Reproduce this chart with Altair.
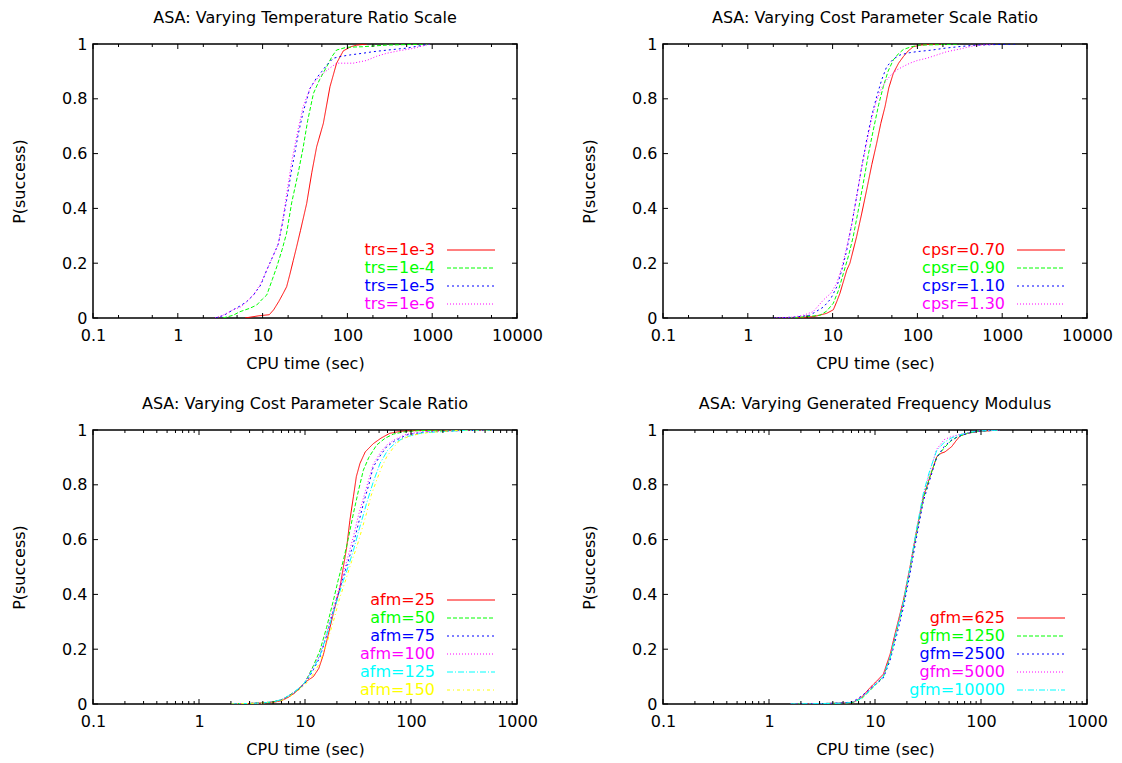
import altair as alt
import pandas as pd

# ------------------------------------------------------------------ data
COLORS = ["#ff0000", "#00ff00", "#0000ff", "#ff00ff", "#00ffff", "#ffff00"]
DASHES = [[1, 0], [4, 2], [2, 3], [1, 2], [6, 2, 1, 2], [3, 3, 1, 3]]

Y_TICKS = [0, 0.2, 0.4, 0.6, 0.8, 1]
X_MAJOR_5 = [0.1, 1, 10, 100, 1000, 10000]
X_MINOR_5 = [0.2, 0.5, 2, 5, 20, 50, 200, 500, 2000, 5000]
X_MAJOR_4 = [0.1, 1, 10, 100, 1000]
X_MINOR_4 = [m * d for d in (0.1, 1, 10, 100) for m in range(2, 10)]

# Panel 1 : temperature ratio scale
trs_labels = ["trs=1e-3", "trs=1e-4", "trs=1e-5", "trs=1e-6"]
trs3_t = [6.2, 9, 12, 13.5, 15.5, 17.5, 19.2, 21, 23, 25.2, 28, 33.1, 38, 43.4, 52, 62.3, 74.6, 89.5, 110, 129, 170]
trs3_p = [0.0, 0.008, 0.012, 0.03, 0.06, 0.09, 0.114, 0.16, 0.21, 0.26, 0.32, 0.418, 0.53, 0.625, 0.71, 0.844, 0.93, 0.975, 0.99, 0.996, 1.0]
trs4_t = [3.4, 4.5, 5.4, 7, 8.5, 10, 11.2, 13, 14.7, 17, 19.2, 22, 26.3, 30, 34, 39.8, 47, 57, 66, 74.6, 97.6, 150, 290, 500, 942]
trs4_p = [0.0, 0.01, 0.023, 0.035, 0.047, 0.07, 0.084, 0.14, 0.187, 0.25, 0.31, 0.42, 0.53, 0.62, 0.72, 0.82, 0.87, 0.917, 0.955, 0.978, 0.988, 0.99, 0.996, 0.998, 1.0]
trs5_t = [2.8, 3.5, 4.5, 5.5, 6.5, 7.8, 9.5, 11.2, 13, 15.3, 17, 19.2, 22, 26.3, 30, 36.2, 43, 50, 57, 68, 85, 107, 150, 202, 300, 500, 942]
trs5_p = [0.0, 0.01, 0.03, 0.045, 0.06, 0.084, 0.12, 0.175, 0.22, 0.27, 0.34, 0.43, 0.54, 0.67, 0.75, 0.838, 0.875, 0.9, 0.923, 0.948, 0.955, 0.96, 0.966, 0.972, 0.978, 0.985, 1.0]
trs6_t = [2.75, 3.5, 4.5, 5.5, 6.5, 7.8, 9.5, 11.2, 13, 15.3, 17, 19.2, 22, 26.3, 30, 36.2, 43, 52, 62, 74.6, 90, 117, 169, 220, 290, 400, 598, 942]
trs6_p = [0.0, 0.012, 0.03, 0.04, 0.06, 0.084, 0.125, 0.175, 0.22, 0.27, 0.345, 0.45, 0.57, 0.69, 0.77, 0.838, 0.87, 0.893, 0.912, 0.93, 0.93, 0.93, 0.94, 0.955, 0.966, 0.975, 0.984, 1.0]

# Panel 2 : cost parameter scale ratio
cpsr_labels = ["cpsr=0.70", "cpsr=0.90", "cpsr=1.10", "cpsr=1.30"]
cpsr07_t = [3.4, 6, 8.5, 10.2, 11.2, 12.2, 14.7, 16, 19.2, 22, 25.2, 29, 33.1, 37, 41.5, 46, 52, 60, 68.3, 78, 89.5, 110, 129, 200]
cpsr07_p = [0.0, 0.005, 0.017, 0.03, 0.06, 0.09, 0.175, 0.2, 0.297, 0.38, 0.467, 0.56, 0.638, 0.71, 0.771, 0.84, 0.893, 0.93, 0.954, 0.975, 0.99, 0.996, 0.998, 1.0]
cpsr09_t = [3.0, 5, 7.1, 8.5, 10.2, 11.7, 13.4, 15.5, 17.5, 20, 23, 26.5, 30.2, 35, 39.6, 45, 52, 60, 68.3, 85, 107, 200, 316]
cpsr09_p = [0.0, 0.005, 0.01, 0.025, 0.054, 0.1, 0.163, 0.23, 0.297, 0.39, 0.492, 0.6, 0.686, 0.78, 0.844, 0.9, 0.942, 0.965, 0.98, 0.99, 0.996, 0.998, 1.0]
cpsr11_t = [2.0, 3.5, 5.4, 7.8, 9.5, 11.2, 13, 14.7, 17, 19.2, 22, 25.2, 29, 33.1, 38, 43.4, 52, 62.3, 80, 98, 150, 202, 300, 500, 1480]
cpsr11_p = [0.0, 0.003, 0.01, 0.04, 0.07, 0.114, 0.18, 0.248, 0.35, 0.443, 0.55, 0.65, 0.74, 0.808, 0.87, 0.917, 0.945, 0.96, 0.968, 0.972, 0.978, 0.984, 0.99, 0.996, 1.0]
cpsr13_t = [2.0, 3.4, 4.5, 5.9, 7.8, 9.5, 11.2, 13, 14.7, 17, 19.2, 22, 25.2, 29, 33.1, 38, 43.4, 50, 57, 68, 81.8, 100, 129, 170, 222, 300, 457, 785]
cpsr13_p = [0.0, 0.003, 0.01, 0.023, 0.066, 0.09, 0.127, 0.19, 0.26, 0.35, 0.443, 0.55, 0.638, 0.73, 0.796, 0.84, 0.869, 0.89, 0.905, 0.918, 0.93, 0.94, 0.948, 0.96, 0.972, 0.98, 0.993, 1.0]

# Panel 3 : afm
afm_labels = ["afm=25", "afm=50", "afm=75", "afm=100", "afm=125", "afm=150"]
afm25_t = [2, 3, 4, 5, 6, 7, 8, 9, 10, 11, 12, 13.5, 14.9, 16.5, 18.5, 20, 21.4, 23, 24.7, 26.5, 28.6, 30.5, 33, 37, 44, 52, 63, 80, 98, 150, 300, 600]
afm25_p = [0.0, 0.002, 0.004, 0.006, 0.012, 0.025, 0.04, 0.06, 0.08, 0.09, 0.1, 0.13, 0.18, 0.25, 0.33, 0.38, 0.426, 0.5, 0.57, 0.67, 0.756, 0.83, 0.878, 0.92, 0.95, 0.97, 0.988, 0.995, 0.997, 0.999, 1.0, 1.0]
afm50_t = [2, 3, 4, 5, 6, 7, 8, 9, 10, 11, 12, 13.8, 16, 18.5, 20.5, 23, 25.5, 28.6, 32, 35.5, 40, 47.4, 57, 68, 85, 120, 300, 600]
afm50_p = [0.0, 0.002, 0.004, 0.008, 0.015, 0.03, 0.045, 0.06, 0.08, 0.11, 0.14, 0.194, 0.28, 0.377, 0.45, 0.524, 0.6, 0.695, 0.78, 0.853, 0.9, 0.945, 0.97, 0.985, 0.993, 0.998, 1.0, 1.0]
afm75_t = [2, 3, 4, 5, 6, 7, 8, 9, 10, 11, 12, 13.8, 16, 18.5, 20.5, 23, 25.5, 28.6, 32, 35.5, 40, 44, 52, 59, 70, 91, 130, 300, 600]
afm75_p = [0.0, 0.002, 0.004, 0.008, 0.015, 0.028, 0.042, 0.058, 0.075, 0.1, 0.125, 0.17, 0.25, 0.34, 0.4, 0.463, 0.52, 0.585, 0.66, 0.731, 0.8, 0.865, 0.91, 0.939, 0.96, 0.982, 0.992, 0.998, 1.0]
afm100_t = [2, 3, 4, 5, 6, 7, 8, 9, 10, 11, 12, 13.8, 16, 18.5, 20.5, 23, 25.5, 28.6, 32, 35.5, 40, 44, 52, 59, 70, 91, 130, 300, 600]
afm100_p = [0.0, 0.002, 0.004, 0.008, 0.015, 0.03, 0.045, 0.06, 0.08, 0.11, 0.135, 0.18, 0.26, 0.35, 0.41, 0.475, 0.54, 0.61, 0.69, 0.75, 0.82, 0.875, 0.92, 0.945, 0.965, 0.985, 0.994, 0.998, 1.0]
afm125_t = [2, 3, 4, 5, 6, 7, 8, 9, 10, 11, 12, 13.8, 16, 18.5, 20.5, 23, 25.5, 28.6, 32, 35.5, 38, 44, 51, 60, 73, 90, 130, 300, 600]
afm125_p = [0.0, 0.002, 0.004, 0.008, 0.016, 0.03, 0.045, 0.062, 0.08, 0.105, 0.13, 0.175, 0.25, 0.335, 0.39, 0.45, 0.5, 0.56, 0.63, 0.69, 0.731, 0.81, 0.878, 0.925, 0.957, 0.975, 0.99, 0.998, 1.0]
afm150_t = [2, 3, 4, 5, 6, 7, 8, 9, 10, 11, 12, 13.8, 16, 18.5, 21, 24.7, 27.5, 30.8, 34, 38, 42, 47.4, 53, 59, 68, 78.7, 100, 141, 200, 331, 600]
afm150_p = [0.0, 0.002, 0.004, 0.007, 0.013, 0.025, 0.04, 0.055, 0.07, 0.09, 0.11, 0.15, 0.22, 0.3, 0.38, 0.463, 0.52, 0.573, 0.63, 0.695, 0.76, 0.817, 0.865, 0.902, 0.935, 0.963, 0.98, 0.99, 0.995, 1.0, 1.0]

# Panel 4 : gfm
gfm_labels = ["gfm=625", "gfm=1250", "gfm=2500", "gfm=5000", "gfm=10000"]
gfm625_t = [1.6, 2.5, 3.5, 5, 6.2, 7.5, 9, 10.4, 12, 13.9, 16, 18.5, 21.4, 24.7, 28.6, 33, 38.2, 42, 45.7, 52.8, 58, 63.4, 75, 91, 151]
gfm625_p = [0.0, 0.001, 0.002, 0.003, 0.005, 0.025, 0.06, 0.084, 0.109, 0.182, 0.28, 0.377, 0.5, 0.634, 0.756, 0.829, 0.902, 0.915, 0.92, 0.939, 0.96, 0.978, 0.988, 0.994, 1.0]
gfm_t = [1.6, 2.5, 3.5, 5, 6.2, 7.5, 9, 10.4, 12, 13.9, 16, 18.5, 21.4, 24.7, 28.6, 33, 38.2, 45, 52, 60, 75, 91, 151]
gfm1250_p = [0.0, 0.001, 0.002, 0.003, 0.006, 0.02, 0.05, 0.075, 0.1, 0.17, 0.265, 0.365, 0.49, 0.625, 0.75, 0.83, 0.9, 0.935, 0.96, 0.975, 0.988, 0.995, 1.0]
gfm2500_p = [0.0, 0.001, 0.002, 0.004, 0.008, 0.03, 0.055, 0.075, 0.095, 0.16, 0.25, 0.35, 0.475, 0.61, 0.74, 0.82, 0.9, 0.94, 0.962, 0.975, 0.988, 0.995, 1.0]
gfm5000_p = [0.0, 0.001, 0.002, 0.004, 0.007, 0.025, 0.055, 0.08, 0.105, 0.175, 0.27, 0.37, 0.495, 0.63, 0.76, 0.85, 0.93, 0.965, 0.975, 0.982, 0.99, 0.996, 1.0]
gfm10000_p = [0.0, 0.001, 0.002, 0.003, 0.006, 0.022, 0.05, 0.078, 0.1, 0.17, 0.27, 0.37, 0.5, 0.64, 0.77, 0.855, 0.925, 0.955, 0.97, 0.98, 0.99, 0.996, 1.0]

# ------------------------------------------------------------------ layout constants
W, H = 424, 274
FONT = "DejaVu Sans"
FS = 16
MAJOR_LEN, MINOR_LEN = 5, 3
LEG_TEXT_X, LEG_LINE_X0, LEG_LINE_X1 = 342, 354, 402
LEG_LAST_Y, LEG_STEP = 260, 18


def panel(title, labels, ts, ps, xmax, x_major, x_minor):
    n = len(labels)
    rows = []
    for lab, tt, pp in zip(labels, ts, ps):
        for a, b in zip(tt, pp):
            rows.append({"series": lab, "t": a, "p": b})
    df = pd.DataFrame(rows)

    xs = alt.Scale(type="log", domain=[0.1, xmax], nice=False)
    ys = alt.Scale(domain=[0, 1], nice=False, zero=False)
    x_axis = alt.Axis(values=x_major, format="~g", labelFlush=False, labelOverlap=False,
                      labelPadding=9, titlePadding=12, title="CPU time (sec)")
    color = alt.Color("series:N", scale=alt.Scale(domain=labels, range=COLORS[:n]), legend=None)
    dash = alt.StrokeDash("series:N", scale=alt.Scale(domain=labels, range=DASHES[:n]), legend=None)

    lines = alt.Chart(df).mark_line(strokeWidth=1, clip=True).encode(
        x=alt.X("t:Q", scale=xs, title="CPU time (sec)", axis=x_axis),
        y=alt.Y("p:Q", scale=ys, title="P(success)",
                axis=alt.Axis(values=Y_TICKS, format="~g", labelFlush=False, labelOverlap=False,
                              labelPadding=6, titlePadding=34)),
        color=color,
        strokeDash=dash,
    )

    ydf = pd.DataFrame({"v": Y_TICKS})
    y_l = alt.Chart(ydf).mark_rule(color="black", strokeWidth=1).encode(
        y=alt.Y("v:Q", scale=ys, axis=None), x=alt.value(0), x2=alt.value(MAJOR_LEN))
    y_r = alt.Chart(ydf).mark_rule(color="black", strokeWidth=1).encode(
        y=alt.Y("v:Q", scale=ys, axis=None), x=alt.value(W - MAJOR_LEN), x2=alt.value(W))

    xmaj = pd.DataFrame({"v": x_major})
    xmin = pd.DataFrame({"v": x_minor})

    def xt(d, y0, y1):
        return alt.Chart(d).mark_rule(color="black", strokeWidth=1).encode(
            x=alt.X("v:Q", scale=xs, title="CPU time (sec)", axis=x_axis),
            y=alt.value(y0), y2=alt.value(y1))

    x_b = xt(xmaj, H, H - MAJOR_LEN)
    x_t = xt(xmaj, 0, MAJOR_LEN)
    xm_b = xt(xmin, H, H - MINOR_LEN)
    xm_t = xt(xmin, 0, MINOR_LEN)

    leg = pd.DataFrame({"series": labels, "row": list(range(n))})
    ly = alt.Y("row:Q", scale=alt.Scale(domain=[0, n - 1],
                                        range=[LEG_LAST_Y - LEG_STEP * (n - 1), LEG_LAST_Y],
                                        zero=False, nice=False), axis=None)
    leg_text = alt.Chart(leg).mark_text(align="right", baseline="middle", font=FONT, fontSize=FS).encode(
        x=alt.value(LEG_TEXT_X), y=ly, text="series:N", color=color)
    leg_line = alt.Chart(leg).mark_rule(strokeWidth=1).encode(
        x=alt.value(LEG_LINE_X0), x2=alt.value(LEG_LINE_X1), y=ly, color=color, strokeDash=dash)

    return alt.layer(lines, y_l, y_r, x_b, x_t, xm_b, xm_t, leg_text, leg_line).resolve_scale(
        y="independent").properties(
        width=W, height=H,
        title=alt.TitleParams(title, fontSize=FS, font=FONT, fontWeight="normal", offset=10,
                              anchor="middle", color="black"))


p1 = panel("ASA: Varying Temperature Ratio Scale", trs_labels,
           [trs3_t, trs4_t, trs5_t, trs6_t], [trs3_p, trs4_p, trs5_p, trs6_p],
           10000, X_MAJOR_5, X_MINOR_5)
p2 = panel("ASA: Varying Cost Parameter Scale Ratio", cpsr_labels,
           [cpsr07_t, cpsr09_t, cpsr11_t, cpsr13_t], [cpsr07_p, cpsr09_p, cpsr11_p, cpsr13_p],
           10000, X_MAJOR_5, X_MINOR_5)
p3 = panel("ASA: Varying Cost Parameter Scale Ratio", afm_labels,
           [afm25_t, afm50_t, afm75_t, afm100_t, afm125_t, afm150_t],
           [afm25_p, afm50_p, afm75_p, afm100_p, afm125_p, afm150_p],
           1000, X_MAJOR_4, X_MINOR_4)
p4 = panel("ASA: Varying Generated Frequency Modulus", gfm_labels,
           [gfm625_t, gfm_t, gfm_t, gfm_t, gfm_t],
           [gfm625_p, gfm1250_p, gfm2500_p, gfm5000_p, gfm10000_p],
           1000, X_MAJOR_4, X_MINOR_4)

chart = alt.concat(p1, p2, p3, p4, columns=2,
                   spacing=alt.RowColnumber(row=112, column=146),
                   bounds="flush").resolve_scale(
    x="independent", y="independent", color="independent", strokeDash="independent"
).configure(
    font=FONT, background="white",
    padding={"left": 10, "top": 9, "right": 5, "bottom": 5},
).configure_axis(
    labelFont=FONT, titleFont=FONT, labelFontSize=FS, titleFontSize=FS,
    titleFontWeight="normal", labelColor="black", titleColor="black",
    grid=False, ticks=False, domain=False,
).configure_view(stroke="black", strokeWidth=1.5)

chart.save("out.html", embed_options={"renderer": "svg", "actions": False})
